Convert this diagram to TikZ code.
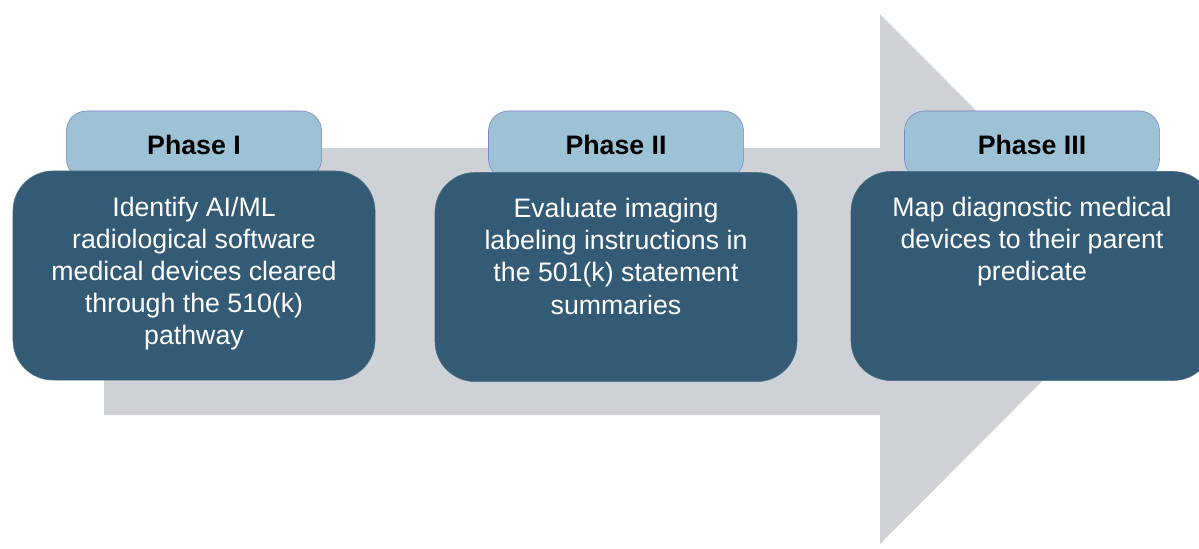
\documentclass[tikz,border=0pt]{standalone}
\usepackage{fontspec}
\setmainfont{Liberation Sans}
\usetikzlibrary{positioning}
\definecolor{arrowgray}{HTML}{CED1D6}
\definecolor{phasedark}{HTML}{335B75}
\definecolor{phaselight}{HTML}{9DC2D6}
\definecolor{tabline}{HTML}{7C84C2}

\begin{document}
\begin{tikzpicture}[x=0.025cm,y=-0.025cm,
    tab/.style={draw=tabline, fill=phaselight, rounded corners=0.5cm,
        minimum width=6.375cm, minimum height=1.7cm, text=black,
        font=\fontsize{19}{22}\selectfont\bfseries},
    box/.style={draw=phasedark!85!white, fill=phasedark, rounded corners=1cm,
        minimum width=9.05cm, minimum height=5.225cm},
    boxtext/.style={inner sep=0pt, align=center, text=white,
        font=\fontsize{19}{22.8}\selectfont}]
    \useasboundingbox (0,0) rectangle (1199,548);
    \clip (0,0) rectangle (1199,548);

    % big arrow behind
    \fill[arrowgray] (104,148) -- (880,148) -- (880,14) -- (1144,279)
        -- (880,544) -- (880,415) -- (104,415) -- cycle;

    \node[tab] (tab1) at (194,145) {Phase I};
    \node[tab] (tab2) at (616,145) {Phase II};
    \node[tab] (tab3) at (1032,145) {Phase III};

    \node[box] (box1) at (194,275.5) {};
    \node[box] (box2) at (616,277) {};
    \node[box] (box3) at (1032,276) {};

    \node[boxtext, below=0.65cm of box1.north] (txt1)
        {Identify AI/ML\\radiological software\\medical devices cleared\\through the 510(k)\\pathway};
    \node[boxtext, below=0.65cm of box2.north] (txt2)
        {Evaluate imaging\\labeling instructions in\\the 501(k) statement\\summaries};
    \node[boxtext, below=0.65cm of box3.north] (txt3)
        {Map diagnostic medical\\devices to their parent\\predicate};
\end{tikzpicture}
\end{document}
